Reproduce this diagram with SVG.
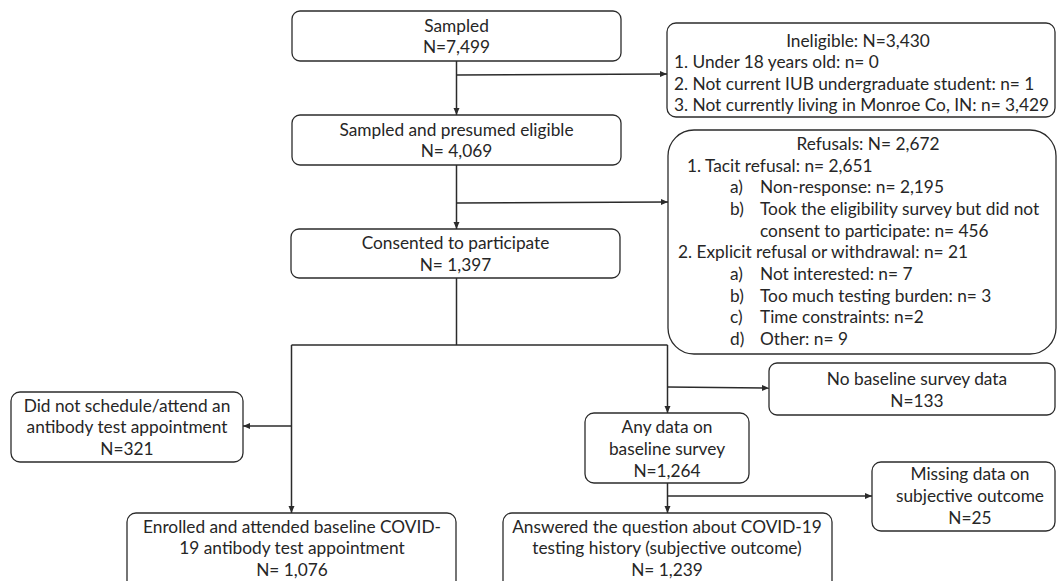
<svg xmlns="http://www.w3.org/2000/svg" width="1058" height="581" viewBox="0 0 1058 581">
<defs>
<marker id="ah" markerUnits="userSpaceOnUse" markerWidth="8" markerHeight="8" viewBox="0 0 8 8" refX="7" refY="4" orient="auto">
<path d="M0,1 L7,4 L0,7 Z" fill="#2b2b2b"/>
</marker>
<style>
.box{fill:#fff;stroke:#2b2b2b;stroke-width:1.3}
.t{font-family:Lato,"Liberation Sans",sans-serif;font-size:17.3px;fill:#262626}
.c{text-anchor:middle}
.ln{fill:none;stroke:#2b2b2b;stroke-width:1.5}
.ar{marker-end:url(#ah)}
</style>
</defs>
<rect width="1058" height="581" fill="#fff"/>
<g id="connectors">
<line class="ln ar" x1="456.5" y1="61" x2="456.5" y2="115"/>
<line class="ln ar" x1="456.5" y1="75" x2="667" y2="74"/>
<line class="ln ar" x1="456.5" y1="165" x2="456.5" y2="229"/>
<line class="ln ar" x1="456.5" y1="203" x2="668" y2="202"/>
<line class="ln" x1="456.5" y1="278" x2="456.5" y2="345"/>
<line class="ln" x1="291.5" y1="345" x2="667.5" y2="345"/>
<line class="ln ar" x1="291.5" y1="345" x2="291.5" y2="513"/>
<line class="ln ar" x1="291.5" y1="426" x2="243" y2="426"/>
<line class="ln ar" x1="667.5" y1="345" x2="667.5" y2="413"/>
<line class="ln ar" x1="667.5" y1="387" x2="769" y2="388"/>
<line class="ln ar" x1="667.5" y1="483" x2="667.5" y2="513"/>
<line class="ln ar" x1="667.5" y1="496" x2="872" y2="496"/>
</g>
<g id="sampled">
<rect class="box" x="292" y="11" width="329" height="50" rx="8"/>
<text class="t c" x="456.5" y="32">Sampled</text>
<text class="t c" x="456.5" y="53">N=7,499</text>
</g>
<g id="ineligible">
<rect class="box" x="667" y="23" width="388" height="94" rx="9"/>
<text class="t c" x="858" y="47">Ineligible: N=3,430</text>
<text class="t" x="674" y="68">1. Under 18 years old: n= 0</text>
<text class="t" x="674" y="90">2. Not current IUB undergraduate student: n= 1</text>
<text class="t" x="674" y="111">3. Not currently living in Monroe Co, IN: n= 3,429</text>
</g>
<g id="presumed">
<rect class="box" x="292" y="115" width="329" height="50" rx="8"/>
<text class="t c" x="456.5" y="136">Sampled and presumed eligible</text>
<text class="t c" x="456.5" y="157">N= 4,069</text>
</g>
<g id="refusals">
<rect class="box" x="668" y="130" width="388" height="224" rx="26"/>
<text class="t c" x="868" y="150">Refusals: N= 2,672</text>
<text class="t" x="687" y="172">1. Tacit refusal: n= 2,651</text>
<text class="t" x="730" y="193">a)</text>
<text class="t" x="760" y="193">Non-response: n= 2,195</text>
<text class="t" x="730" y="215">b)</text>
<text class="t" x="760" y="215">Took the eligibility survey but did not</text>
<text class="t" x="760" y="237">consent to participate: n= 456</text>
<text class="t" x="678" y="258">2. Explicit refusal or withdrawal: n= 21</text>
<text class="t" x="730" y="280">a)</text>
<text class="t" x="760" y="280">Not interested: n= 7</text>
<text class="t" x="730" y="302">b)</text>
<text class="t" x="760" y="302">Too much testing burden: n= 3</text>
<text class="t" x="730" y="323">c)</text>
<text class="t" x="760" y="323">Time constraints: n=2</text>
<text class="t" x="730" y="345">d)</text>
<text class="t" x="760" y="345">Other: n= 9</text>
</g>
<g id="consented">
<rect class="box" x="291" y="229" width="329" height="49" rx="8"/>
<text class="t c" x="455.5" y="249">Consented to participate</text>
<text class="t c" x="455.5" y="271">N= 1,397</text>
</g>
<g id="noschedule">
<rect class="box" x="11" y="392" width="232" height="70" rx="9"/>
<text class="t c" x="127" y="412">Did not schedule/attend an</text>
<text class="t c" x="127" y="433">antibody test appointment</text>
<text class="t c" x="127" y="455">N=321</text>
</g>
<g id="nobaseline">
<rect class="box" x="769" y="363" width="286" height="52" rx="8"/>
<text class="t c" x="917" y="385">No baseline survey data</text>
<text class="t c" x="917" y="407">N=133</text>
</g>
<g id="anydata">
<rect class="box" x="585" y="413" width="164" height="70" rx="9"/>
<text class="t c" x="667" y="433">Any data on</text>
<text class="t c" x="667" y="455">baseline survey</text>
<text class="t c" x="667" y="477">N=1,264</text>
</g>
<g id="missing">
<rect class="box" x="872" y="462" width="183" height="69" rx="9"/>
<text class="t c" x="970" y="480">Missing data on</text>
<text class="t c" x="970" y="502">subjective outcome</text>
<text class="t c" x="970" y="524">N=25</text>
</g>
<g id="enrolled">
<rect class="box" x="127" y="513" width="329" height="80" rx="9"/>
<text class="t c" x="292" y="533">Enrolled and attended baseline COVID-</text>
<text class="t c" x="292" y="554">19 antibody test appointment</text>
<text class="t c" x="292" y="576">N= 1,076</text>
</g>
<g id="answered">
<rect class="box" x="503" y="513" width="329" height="80" rx="9"/>
<text class="t c" x="667" y="533">Answered the question about COVID-19</text>
<text class="t c" x="667" y="554">testing history (subjective outcome)</text>
<text class="t c" x="667" y="576">N= 1,239</text>
</g>
</svg>
